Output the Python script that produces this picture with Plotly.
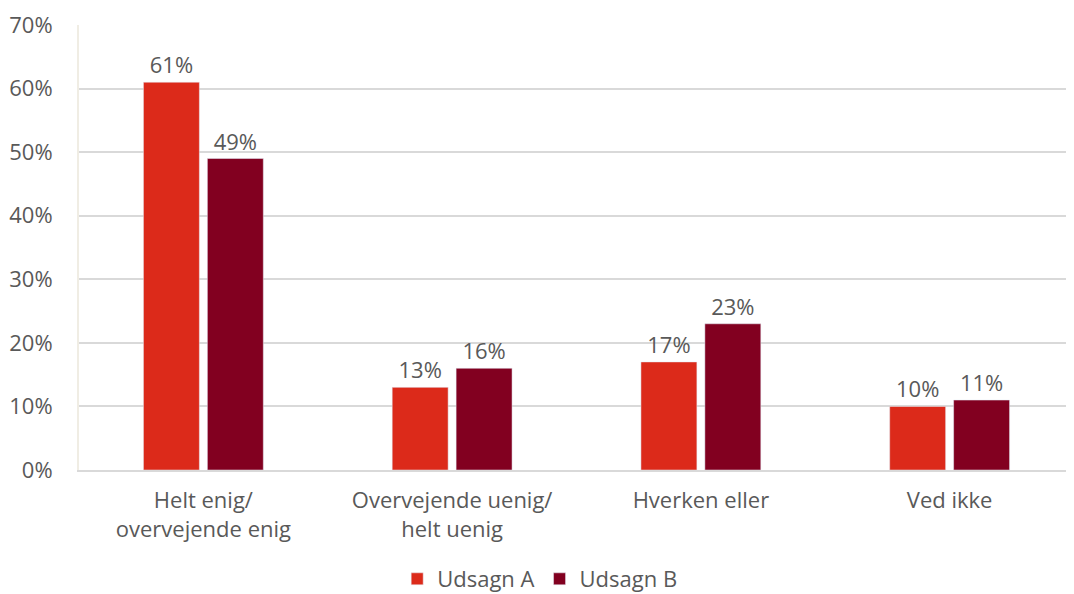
import plotly.graph_objects as go

# Data
categories = ["Helt enig/<br>overvejende enig", "Overvejende uenig/<br>helt uenig",
              "Hverken eller", "Ved ikke"]
udsagn_a = [61, 13, 17, 10]
udsagn_b = [49, 16, 23, 11]
y_ticks = [0, 10, 20, 30, 40, 50, 60, 70]

FONT = "Open Sans"
GREY = "#595959"
FS = 22

fig = go.Figure()
fig.add_trace(go.Bar(x=categories, y=udsagn_a, name="Udsagn A", marker_color="#DC2A1A",
                     text=[f"{v}%" for v in udsagn_a], textposition="outside", cliponaxis=False,
                     textfont=dict(size=FS, color=GREY, family=FONT)))
fig.add_trace(go.Bar(x=categories, y=udsagn_b, name="Udsagn B", marker_color="#820020",
                     text=[f"{v}%" for v in udsagn_b], textposition="outside", cliponaxis=False,
                     textfont=dict(size=FS, color=GREY, family=FONT)))

# page body has an 8px margin, so the figure is sized/offset to compensate
fig.update_layout(
    width=1066, height=586,
    margin=dict(l=71, r=0, t=17, b=124, autoexpand=False),
    plot_bgcolor="white", paper_bgcolor="white",
    font=dict(family=FONT, size=FS, color=GREY),
    barmode="group", bargap=0.486, bargroupgap=0.125,
    legend=dict(orientation="h", x=0.463, xanchor="center", y=-0.245, yanchor="middle",
                font=dict(size=FS, color=GREY), itemwidth=30),
)
fig.update_yaxes(range=[0, 70], tickvals=y_ticks, ticktext=[f"{v}%" for v in y_ticks],
                 showgrid=True, gridcolor="#D9D9D9", gridwidth=1.5, zeroline=False,
                 showline=True, linecolor="#F0EDE4", linewidth=2, ticklabelstandoff=20,
                 tickfont=dict(size=FS, color=GREY))
fig.update_xaxes(showline=True, linecolor="#D9D9D9", linewidth=2,
                 tickfont=dict(size=FS, color=GREY), ticklabelstandoff=10)

fig.write_html("out.html")
